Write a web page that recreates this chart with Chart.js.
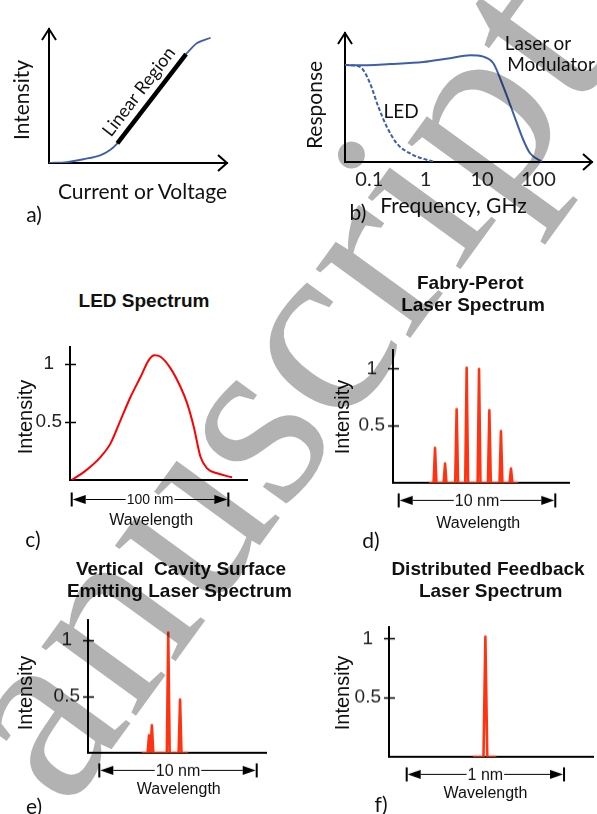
<!DOCTYPE html>
<html>
<head>
<meta charset="utf-8">
<script src="https://cdn.jsdelivr.net/npm/chart.js@4.4.1/dist/chart.umd.min.js"></script>
<style>
  html, body { margin: 0; padding: 0; background: #fff; }
  #page { position: relative; width: 597px; height: 814px; overflow: hidden; }
  canvas.panel { position: absolute; }
  .t { position: absolute; white-space: pre; line-height: 1; color: #111; transform: translate(-50%, -50%); }
  #mark { position: absolute; left: 0; top: 0; pointer-events: none; }
</style>
</head>
<body>
<div id="page"></div>
<script>
// a) 전류-광출력 곡선
const aCurveX = [0, 9.9, 19.3, 28.7, 34.3, 38.4, 77, 78.3, 83, 90.8];
const aCurveY = [0, 0.7, 2.8, 5.7, 9.7, 14.7, 81.3, 83.1, 89.3, 93.5];
const aLinearX = [38.4, 77];
const aLinearY = [14.7, 81.3];

// b) 주파수 응답 (GHz)
const bLaserFreq = [0.037, 0.0597, 0.233, 0.909, 2.71, 6.14, 10.6, 15.9, 23.9, 36.0, 54.2, 71.3, 115];
const bLaserResp = [1.0, 0.997, 1.01, 1.03, 1.07, 1.10, 1.086, 1.018, 0.776, 0.502, 0.227, 0.09, 0.003];
const bLedFreq = [0.037, 0.0597, 0.0782, 0.103, 0.1445, 0.204, 0.306, 0.604, 1.37];
const bLedResp = [1.0, 0.993, 0.948, 0.811, 0.570, 0.364, 0.193, 0.072, 0.003];
const bTicks = [0.1, 1, 10, 100];

// c) LED 스펙트럼 (nm)
const cNm = [0, 7.9, 18.5, 24.8, 31.2, 37.6, 44, 49.2, 52.9, 56.7, 63.1, 69.4, 73.7, 77.9, 82.2, 86.4, 92.8, 102.4];
const cIntensity = [0, 0.07, 0.2, 0.316, 0.517, 0.718, 0.89, 1.034, 1.075, 1.063, 0.963, 0.804, 0.661, 0.46, 0.2, 0.1, 0.058, 0.023];

// d) Fabry-Perot 모드
const dPeakNm = [2.32, 2.96, 3.70, 4.34, 5.13, 5.79, 6.53, 7.17];
const dPeakHeight = [0.305, 0.168, 0.645, 1.007, 0.996, 0.636, 0.452, 0.125];

// e) VCSEL 모드
const ePeakNm = [3.16, 3.34, 4.38, 5.13];
const ePeakHeight = [0.156, 0.244, 1.065, 0.473];

// f) DFB 모드
const fPeakNm = [0.5];
const fPeakHeight = [1.015];

const yTicks = [0.5, 1];

const BLUE = '#3d5fa9';
const RED = '#ff0000';
const ORANGE = '#ff3311';
const CAL = 'Lato, sans-serif';
const ARI = '"Liberation Sans", Arial, sans-serif';

const page = document.getElementById('page');

function label(text, x, y, font, size, opts = {}) {
  const el = document.createElement('div');
  el.className = 't';
  el.textContent = text;
  el.style.left = x + 'px';
  el.style.top = y + 'px';
  el.style.fontFamily = font;
  el.style.fontSize = size + 'px';
  if (opts.bold) el.style.fontWeight = 'bold';
  if (opts.rot) el.style.transform = 'translate(-50%,-50%) rotate(' + opts.rot + 'deg)';
  page.appendChild(el);
}

function peakLine(start, end, centers, heights, w) {
  const pts = [{x: start, y: 0}];
  centers.forEach((c, i) => {
    pts.push({x: c - w, y: 0}, {x: c, y: heights[i]}, {x: c + w, y: 0});
  });
  pts.push({x: end, y: 0});
  return pts;
}

// 축 화살표 (a, b)
const axisArrows = {
  id: 'axisArrows',
  afterDraw(chart, args, o) {
    if (!o.on) return;
    const {ctx, chartArea: {left, top, right, bottom}} = chart;
    ctx.save();
    ctx.strokeStyle = '#000';
    ctx.lineWidth = 2;
    ctx.beginPath();
    ctx.moveTo(left - 7, top + 11); ctx.lineTo(left, top); ctx.lineTo(left + 7, top + 11);
    ctx.moveTo(right - 9, bottom - 8); ctx.lineTo(right, bottom); ctx.lineTo(right - 9, bottom + 8);
    ctx.stroke();
    ctx.restore();
  }
};

// y축을 가로지르는 눈금
const crossTicks = {
  id: 'crossTicks',
  afterDraw(chart, args, o) {
    if (!o.on) return;
    const {ctx} = chart;
    const y = chart.scales.y;
    const x0 = chart.chartArea.left;
    ctx.save();
    ctx.strokeStyle = '#000';
    ctx.lineWidth = 1.5;
    y.ticks.forEach(t => {
      const py = Math.round(y.getPixelForValue(t.value)) + 0.5;
      ctx.beginPath(); ctx.moveTo(x0 - 5, py); ctx.lineTo(x0 + 6, py); ctx.stroke();
    });
    ctx.restore();
  }
};

// |<--- 10 nm --->| 표시
const spanArrow = {
  id: 'spanArrow',
  afterDraw(chart, args, o) {
    if (!o.text) return;
    const {ctx} = chart;
    const xs = chart.scales.x;
    const x0 = xs.getPixelForValue(o.from), x1 = xs.getPixelForValue(o.to);
    const y = Math.round(chart.chartArea.bottom + o.dy) + 0.5;
    ctx.save();
    ctx.strokeStyle = '#000'; ctx.fillStyle = '#000';
    ctx.lineWidth = 2;
    ctx.beginPath();
    ctx.moveTo(x0, y - 7); ctx.lineTo(x0, y + 7);
    ctx.moveTo(x1, y - 7); ctx.lineTo(x1, y + 7);
    ctx.stroke();
    ctx.beginPath();
    ctx.moveTo(x0 + 1, y); ctx.lineTo(x0 + 14, y - 4.5); ctx.lineTo(x0 + 14, y + 4.5); ctx.closePath();
    ctx.moveTo(x1 - 1, y); ctx.lineTo(x1 - 14, y - 4.5); ctx.lineTo(x1 - 14, y + 4.5); ctx.closePath();
    ctx.fill();
    ctx.font = o.size + 'px ' + ARI;
    const tw = ctx.measureText(o.text).width;
    const xm = (x0 + x1) / 2;
    ctx.lineWidth = 1;
    ctx.beginPath();
    ctx.moveTo(x0 + 14, y); ctx.lineTo(xm - tw / 2 - 1, y);
    ctx.moveTo(xm + tw / 2 + 1, y); ctx.lineTo(x1 - 14, y);
    ctx.stroke();
    ctx.fillStyle = '#111';
    ctx.textAlign = 'center'; ctx.textBaseline = 'middle';
    ctx.fillText(o.text, xm, y + 1);
    ctx.restore();
  }
};

function panel(box, cfg) {
  const c = document.createElement('canvas');
  c.className = 'panel';
  const W = box.r - box.l + 74, H = box.b - box.t + 68;
  c.width = W; c.height = H;
  c.style.left = (box.l - 60) + 'px';
  c.style.top = (box.t - 24) + 'px';
  c.style.width = W + 'px'; c.style.height = H + 'px';
  page.appendChild(c);
  cfg.options.responsive = false;
  cfg.options.animation = false;
  cfg.options.events = [];
  cfg.options.devicePixelRatio = 1;
  cfg.options.layout = {padding: {left: 10, top: 24, right: 14, bottom: 4}};
  cfg.options.plugins = Object.assign({legend: {display: false}, tooltip: {enabled: false}}, cfg.options.plugins);
  cfg.options.scales.x.afterFit = s => { s.height = 40; };
  cfg.options.scales.y.afterFit = s => { s.width = 50; };
  cfg.plugins = [axisArrows, crossTicks, spanArrow];
  return new Chart(c, cfg);
}

const border = {display: true, color: '#000', width: 2};
const noGrid = {display: false, drawTicks: false};

function spectrumScales(xMin, xMax, yMax) {
  return {
    x: {type: 'linear', min: xMin, max: xMax, z: 1, border, grid: noGrid, ticks: {display: false}},
    y: {
      min: 0, max: yMax, border, grid: noGrid,
      afterBuildTicks: s => { s.ticks = yTicks.map(v => ({value: v})); },
      ticks: {font: {family: ARI, size: 19}, color: '#222', padding: 8, crossAlign: 'center', callback: v => String(v)}
    }
  };
}

// a)
panel({l: 49, t: 29, r: 227, b: 163}, {
  type: 'line',
  data: {
    datasets: [
      {data: aLinearX.map((x, i) => ({x, y: aLinearY[i]})), borderColor: '#000', borderWidth: 4.5, pointRadius: 0},
      {data: aCurveX.map((x, i) => ({x, y: aCurveY[i]})), borderColor: BLUE, borderWidth: 1.8, pointRadius: 0, cubicInterpolationMode: 'monotone'}
    ]
  },
  options: {
    plugins: {axisArrows: {on: true}},
    scales: {
      x: {type: 'linear', min: 0, max: 100, border, grid: noGrid, ticks: {display: false}},
      y: {min: 0, max: 100, border, grid: noGrid, ticks: {display: false}}
    }
  }
});

// b)
panel({l: 345, t: 33, r: 592, b: 162}, {
  type: 'line',
  data: {
    datasets: [
      {data: bLaserFreq.map((x, i) => ({x, y: bLaserResp[i]})), borderColor: BLUE, borderWidth: 2, pointRadius: 0, cubicInterpolationMode: 'monotone'},
      {data: bLedFreq.map((x, i) => ({x, y: bLedResp[i]})), borderColor: BLUE, borderWidth: 2, borderDash: [4, 2], pointRadius: 0, cubicInterpolationMode: 'monotone'}
    ]
  },
  options: {
    plugins: {axisArrows: {on: true}},
    scales: {
      x: {
        type: 'logarithmic', min: 0.037, max: 897, border, grid: noGrid,
        afterBuildTicks: s => { s.ticks = bTicks.map(v => ({value: v})); },
        ticks: {font: {family: CAL, size: 20}, color: '#222', padding: 6, maxRotation: 0, autoSkip: false, callback: v => String(v)}
      },
      y: {min: 0, max: 1.33, border, grid: noGrid, ticks: {display: false}}
    }
  }
});

// c)
panel({l: 70, t: 347, r: 247, b: 480}, {
  type: 'line',
  data: {datasets: [{data: cNm.map((x, i) => ({x, y: cIntensity[i]})), borderColor: RED, borderWidth: 2, pointRadius: 0, cubicInterpolationMode: 'monotone'}]},
  options: {
    plugins: {crossTicks: {on: true}, spanArrow: {from: 0, to: 100, text: '100 nm', size: 14, dy: 18.5}},
    scales: spectrumScales(-1.09, 111.9, 1.147)
  }
});

// d)
panel({l: 393, t: 350, r: 569, b: 482.5}, {
  type: 'line',
  data: {datasets: [{data: peakLine(1.93, 7.62, dPeakNm, dPeakHeight, 0.09), borderColor: ORANGE, borderWidth: 2.6, borderJoinStyle: 'round', pointRadius: 0}]},
  options: {
    plugins: {crossTicks: {on: true}, spanArrow: {from: 0, to: 10, text: '10 nm', size: 16, dy: 17}},
    scales: spectrumScales(-0.364, 10.875, 1.162)
  }
});

// e)
panel({l: 88, t: 620, r: 266, b: 752.5}, {
  type: 'line',
  data: {datasets: [{data: peakLine(2.69, 5.65, ePeakNm, ePeakHeight, 0.09), borderColor: ORANGE, borderWidth: 2.6, borderJoinStyle: 'round', pointRadius: 0}]},
  options: {
    plugins: {crossTicks: {on: true}, spanArrow: {from: 0, to: 10, text: '10 nm', size: 16, dy: 17}},
    scales: spectrumScales(-0.718, 10.59, 1.178)
  }
});

// f)
panel({l: 389, t: 627, r: 593, b: 756.5}, {
  type: 'line',
  data: {datasets: [{data: peakLine(0.42, 0.57, fPeakNm, fPeakHeight, 0.012), borderColor: ORANGE, borderWidth: 2.6, borderJoinStyle: 'round', pointRadius: 0}]},
  options: {
    plugins: {crossTicks: {on: true}, spanArrow: {from: 0, to: 1, text: '1 nm', size: 16, dy: 17}},
    scales: spectrumScales(-0.1125, 1.184, 1.097)
  }
});

// 글자
label('Intensity', 20, 100, CAL, 21, {rot: -90});
label('Linear Region', 138, 91, CAL, 18, {rot: -52.4});
label('Current or Voltage', 142.5, 190, CAL, 21);
label('a)', 34, 213, CAL, 21);

label('Response', 313, 105, CAL, 21, {rot: -90});
label('Laser or', 538, 42, CAL, 19);
label('Modulator', 551, 63, CAL, 19);
label('LED', 401, 110, CAL, 19);
label('Frequency, GHz', 453.5, 204, CAL, 21);
label('b)', 358, 211, CAL, 21);

label('LED Spectrum', 144, 300, ARI, 19, {bold: true});
label('Intensity', 25, 417, ARI, 20, {rot: -90});
label('Wavelength', 151.3, 520, ARI, 16);
label('c)', 33, 538, CAL, 21);

label('Fabry-Perot', 470.3, 282, ARI, 19, {bold: true});
label('Laser Spectrum', 473, 303.5, ARI, 19, {bold: true});
label('Intensity', 341.7, 417, ARI, 20, {rot: -90});
label('Wavelength', 478.3, 523.3, ARI, 16);
label('d)', 371, 539, CAL, 21);

label('Vertical  Cavity Surface', 181, 568.3, ARI, 19, {bold: true});
label('Emitting Laser Spectrum', 179.4, 590, ARI, 19, {bold: true});
label('Intensity', 25, 693, ARI, 20, {rot: -90});
label('Wavelength', 178.8, 789.3, ARI, 16);
label('e)', 34, 805, CAL, 21);

label('Distributed Feedback', 488, 568.3, ARI, 19, {bold: true});
label('Laser Spectrum', 490.7, 590, ARI, 19, {bold: true});
label('Intensity', 341.7, 693.3, ARI, 20, {rot: -90});
label('Wavelength', 485.5, 793, ARI, 16);
label('f)', 381, 803, CAL, 21);

// 워터마크
const wm = document.createElement('canvas');
wm.id = 'mark'; wm.width = 597; wm.height = 814;
page.appendChild(wm);
const w = wm.getContext('2d');
w.translate(66, 812);
w.rotate(-54 * Math.PI / 180);
w.font = '255px "Liberation Serif"';
w.fillStyle = 'rgba(0,0,0,0.3)';
w.fillText('anuscript', 0, 0);
</script>
</body>
</html>
